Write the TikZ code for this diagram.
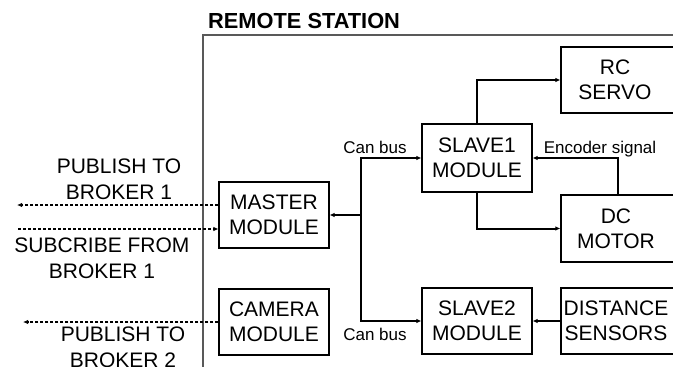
\documentclass[tikz,border=0pt]{standalone}
\usepackage{fontspec}
\setmainfont{Liberation Sans}
\usetikzlibrary{arrows.meta}
\begin{document}
\begin{tikzpicture}[x=1pt,y=-1pt,
  modbox/.style={draw, line width=1.1pt, minimum width=110pt, minimum height=66pt, inner sep=0pt, align=center, font=\fontsize{21}{25}\selectfont},
  cutbox/.style={draw, line width=1.1pt, minimum width=130pt, minimum height=66pt, inner sep=0pt},
  boxtxt/.style={inner sep=0pt, align=center, font=\fontsize{21}{25}\selectfont},
  sidetxt/.style={inner sep=0pt, align=center, font=\fontsize{21}{26}\selectfont},
  smalltxt/.style={inner sep=0pt, font=\fontsize{17}{20}\selectfont},
  conn/.style={line width=2pt, -{Latex[length=5pt,width=4.5pt]}},
  dashconn/.style={line width=1.5pt, dash pattern=on 3pt off 2pt, -{Latex[length=5pt,width=4.5pt]}},
  frameline/.style={draw=black!65, line width=1.4pt}
]
\useasboundingbox (0,0) rectangle (673,367);
% frame and title
\draw[frameline] (203,380) -- (203,35) -- (700,35);
\node[inner sep=0pt, anchor=base west, font=\bfseries\fontsize{21.8}{25}\selectfont] (title) at (208,28) {REMOTE STATION};
% boxes
\node[modbox] (master) at (274,215) {MASTER\\MODULE};
\node[modbox] (camera) at (274,322) {CAMERA\\MODULE};
\node[modbox, minimum height=68pt] (slave1) at (477,158) {SLAVE1\\MODULE};
\node[modbox] (slave2) at (477,321) {SLAVE2\\MODULE};
\node[cutbox, minimum height=66pt] (rc) at (626,80) {};
\node[boxtxt] (rctxt) at (615,80) {RC\\SERVO};
\node[cutbox, minimum height=67pt] (dc) at (626,228.5) {};
\node[boxtxt] (dctxt) at (616,228.5) {DC\\MOTOR};
\node[cutbox] (ds) at (626,321) {};
\node[boxtxt] (dstxt) at (616,321) {DISTANCE\\SENSORS};
% can bus
\coordinate (bj) at (361,215);
\draw[conn] (bj) -- (master.east);
\draw[conn] (bj) |- (slave1.west);
\draw[conn] (bj) |- (slave2.west);
\draw[conn] (slave1.north) |- (rc.west);
\draw[conn] (slave1.south) |- (dc.west);
\draw[conn] ([xshift=2pt]dctxt.center |- dc.north) |- (slave1.east);
\draw[conn] (ds.west) -- (slave2.east);
\node[smalltxt, anchor=base] (cb1) at (375,153) {Can bus};
\node[smalltxt, anchor=base] (cb2) at (375,340) {Can bus};
\node[smalltxt, anchor=base] (enc) at (600,153) {Encoder signal};
% external links
\coordinate (pub1end) at (17,205);
\coordinate (sub1start) at (18,229);
\coordinate (pub2end) at (23,322);
\draw[dashconn] ([yshift=10pt]master.west) -- (pub1end);
\draw[dashconn] (sub1start) -- ([yshift=-14pt]master.west);
\draw[dashconn] (camera.west) -- (pub2end);
\node[sidetxt] (pub1) at (119,179.5) {PUBLISH TO\\BROKER 1};
\node[sidetxt] (sub1) at (102,258) {SUBCRIBE FROM\\BROKER 1};
\node[sidetxt] (pub2) at (123,347.5) {PUBLISH TO\\BROKER 2};
\end{tikzpicture}
\end{document}
